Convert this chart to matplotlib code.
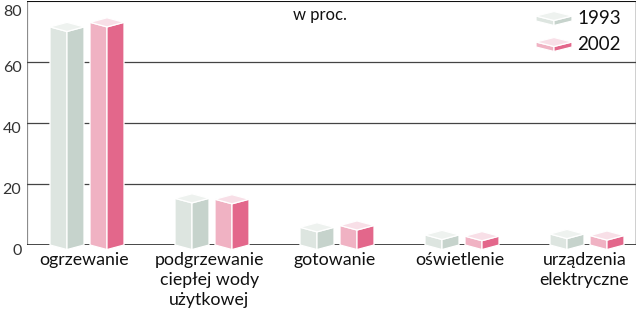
import matplotlib
matplotlib.use("Agg")
import matplotlib.pyplot as plt
from matplotlib.patches import Polygon
from matplotlib.transforms import ScaledTranslation

plt.rcParams['font.family'] = ['Lato', 'DejaVu Sans']

categories = ["ogrzewanie", "podgrzewanie\nciepłej wody\nużytkowej", "gotowanie",
              "oświetlenie", "urządzenia\nelektryczne"]
series_names = ["1993", "2002"]
values_1993 = [71.5, 15.3, 5.8, 3.3, 3.6]
values_2002 = [73.0, 15.0, 6.4, 2.9, 3.1]
yticks = [0, 20, 40, 60, 80]
subtitle = "w proc."

# colours: (top, left/front, right/side)
gray = ("#eef2ef", "#dde5e0", "#c6d3cc")
pink = ("#f8dfe7", "#f0b2c3", "#e3678b")

W, H = 639, 311
fig = plt.figure(figsize=(W / 100, H / 100), dpi=100)
ax_l, ax_r, ax_t, ax_b = 27, 636, 1, 245
ax = fig.add_axes([ax_l / W, 1 - ax_b / H, (ax_r - ax_l) / W, (ax_b - ax_t) / H])

xmin, xmax = -0.48, 4.392
ax.set_xlim(xmin, xmax)
ax.set_ylim(0, 80)

# spines
for s in ax.spines.values():
    s.set_visible(False)
ax.axvline(xmin, color="#8c8c8c", lw=1.6, zorder=1)
ax.axhline(80, color="#111111", lw=1.5, zorder=1)
ax.axvline(xmax, ymin=0, ymax=1, color="#111111", lw=1.0, zorder=1)
ax.axhline(0, color="#111111", lw=1.8, zorder=1)
for g in yticks[1:-1]:
    ax.axhline(g, color="#444444", lw=0.9, zorder=1)

ax.set_xticks([])
ax.set_yticks(yticks)
ax.set_yticklabels([str(t) for t in yticks])
ax.tick_params(axis="y", length=0, pad=4, labelsize=11.5, labelcolor="#333333")
for lab in ax.get_yticklabels():
    dy = -7 / 72 if lab.get_text() == "80" else -3 / 72
    lab.set_transform(lab.get_transform() + ScaledTranslation(0, dy, fig.dpi_scale_trans))


def box(ax, xl, xr, ytop, ybot, d, cols, transform, zorder, clip=False):
    xc = (xl + xr) / 2
    top_c, left_c, right_c = cols
    left = [(xl, ybot), (xl, ytop), (xc, ytop - d), (xc, ybot - d)]
    right = [(xc, ybot - d), (xc, ytop - d), (xr, ytop), (xr, ybot)]
    top = [(xl, ytop), (xc, ytop + d), (xr, ytop), (xc, ytop - d)]
    for pts, c in ((left, left_c), (right, right_c), (top, top_c)):
        ax.add_patch(Polygon(pts, closed=True, facecolor=c, edgecolor="white",
                             lw=0.9, transform=transform, zorder=zorder,
                             clip_on=clip, joinstyle="miter"))


bar_w = 0.272
off = 0.16
depth = 1.5
for i in range(len(categories)):
    for vals, cols, sgn in ((values_1993, gray, -1), (values_2002, pink, 1)):
        xc = i + sgn * off
        box(ax, xc - bar_w / 2, xc + bar_w / 2, vals[i], 0, depth, cols,
            ax.transData, 3)
    ax.text(i - 0.02, -0.03, categories[i], transform=ax.get_xaxis_transform(),
            ha="center", va="top", fontsize=12.8, color="#111111",
            linespacing=1.3)

ax.text((320 - ax_l) / (ax_r - ax_l), (ax_b - 15) / (ax_b - ax_t), subtitle,
        transform=ax.transAxes, ha="center", va="center", fontsize=12,
        color="#111111")


def px(x, y):
    return (x - ax_l) / (ax_r - ax_l), (ax_b - y) / (ax_b - ax_t)


for name, cols, yc in ((series_names[0], gray, 18), (series_names[1], pink, 44)):
    xl, _ = px(536, 0)
    xr, _ = px(572, 0)
    _, ytop = px(0, yc - 2)
    _, ybot = px(0, yc + 3)
    d = 4.5 / (ax_b - ax_t)
    box(ax, xl, xr, ytop, ybot, d, cols, ax.transAxes, 4)
    tx, ty = px(577, yc)
    ax.text(tx, ty, name, transform=ax.transAxes, ha="left", va="center",
            fontsize=13.5, color="#111111")

fig.savefig("out.png", dpi=100)
